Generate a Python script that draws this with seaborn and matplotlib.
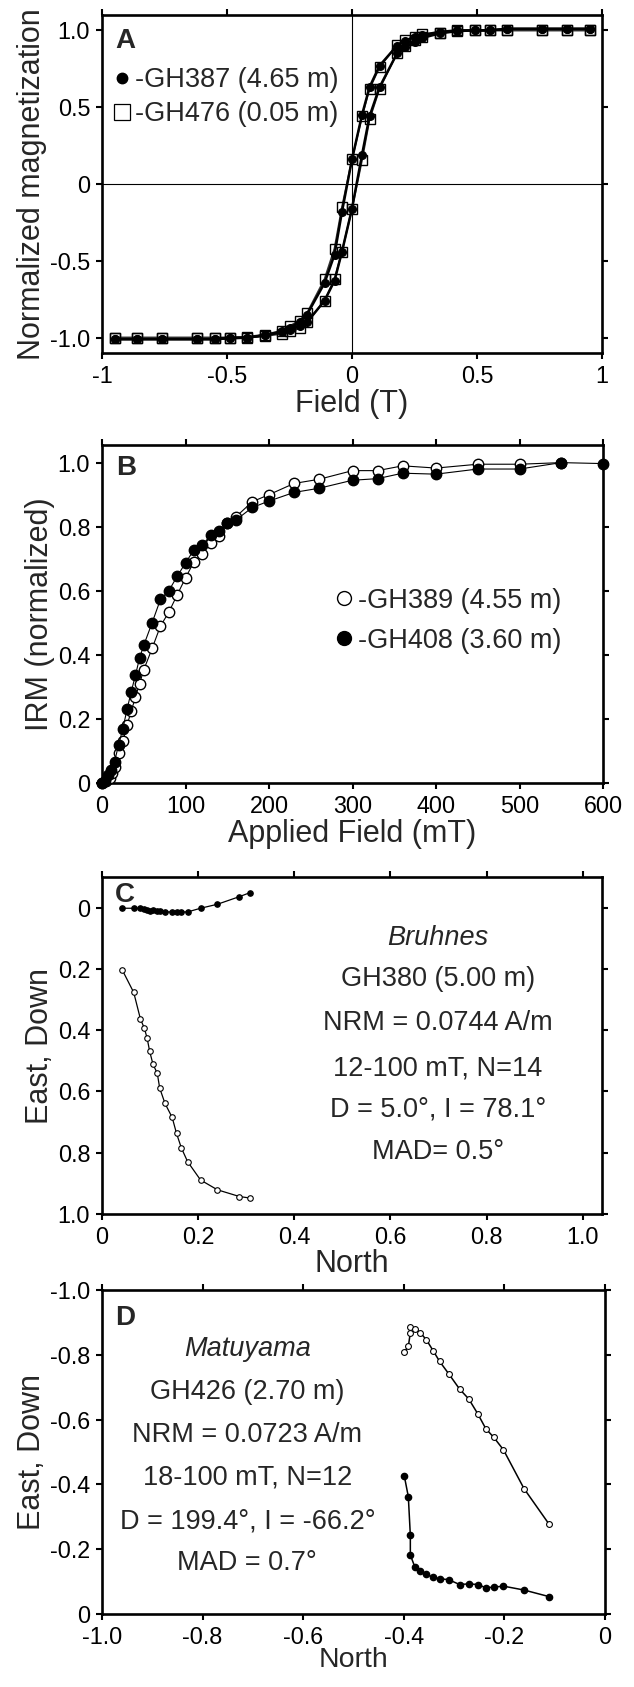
import matplotlib
matplotlib.use("Agg")
import matplotlib.pyplot as plt
from matplotlib.lines import Line2D
from matplotlib.ticker import FixedLocator, FixedFormatter
import seaborn as sns
import pandas as pd

# ---------------- Panel A: hysteresis loops ----------------
field_desc = [0.95, 0.86, 0.76, 0.62, 0.55, 0.49, 0.42, 0.35, 0.28, 0.25, 0.21, 0.18, 0.11, 0.07, 0.04, 0.0,
              -0.04, -0.07, -0.11, -0.18, -0.21, -0.25, -0.28, -0.35, -0.42, -0.49, -0.55, -0.62, -0.76, -0.86, -0.95]
field_asc = [-0.95, -0.86, -0.76, -0.62, -0.55, -0.49, -0.42, -0.35, -0.28, -0.25, -0.21, -0.18, -0.11, -0.07, -0.04, 0.0,
             0.04, 0.07, 0.11, 0.18, 0.21, 0.25, 0.28, 0.35, 0.42, 0.49, 0.55, 0.62, 0.76, 0.86, 0.95]
gh387_desc = [1.01, 1.01, 1.01, 1.01, 1.0, 1.0, 1.0, 0.99, 0.97, 0.955, 0.93, 0.90, 0.77, 0.63, 0.45, 0.16,
              -0.18, -0.46, -0.645, -0.85, -0.90, -0.935, -0.96, -0.985, -1.0, -1.0, -1.01, -1.01, -1.01, -1.01, -1.01]
gh387_asc = [-1.01, -1.01, -1.01, -1.01, -1.01, -1.005, -1.0, -0.985, -0.965, -0.95, -0.925, -0.90, -0.76, -0.63, -0.44, -0.16,
             0.19, 0.44, 0.63, 0.85, 0.89, 0.925, 0.95, 0.98, 0.995, 1.0, 1.0, 1.01, 1.01, 1.01, 1.01]
gh476_desc = [1.0, 1.0, 1.0, 1.0, 1.0, 1.0, 0.995, 0.985, 0.975, 0.96, 0.935, 0.905, 0.76, 0.62, 0.44, 0.16,
              -0.15, -0.42, -0.62, -0.84, -0.89, -0.925, -0.955, -0.98, -0.995, -1.0, -1.0, -1.0, -1.0, -1.0, -1.0]
gh476_asc = [-1.0, -1.0, -1.0, -1.0, -1.0, -1.0, -1.0, -0.99, -0.975, -0.96, -0.94, -0.90, -0.76, -0.62, -0.44, -0.16,
             0.155, 0.42, 0.62, 0.85, 0.90, 0.935, 0.96, 0.985, 1.0, 1.0, 1.0, 1.0, 1.0, 1.0, 1.0]
a_xticks = [-1, -0.5, 0, 0.5, 1]
a_xticklabels = ["-1", "-0.5", "0", "0.5", "1"]
a_yticks = [-1.0, -0.5, 0, 0.5, 1.0]
a_yticklabels = ["-1.0", "-0.5", "0", "0.5", "1.0"]
a_labels = ["-GH387 (4.65 m)", "-GH476 (0.05 m)"]

# ---------------- Panel B: IRM acquisition ----------------
b_field_408 = [0, 4, 7, 10.5, 15, 20, 25, 30, 35, 40, 45, 50, 60, 70, 80, 90, 100, 110, 120, 130, 140, 150,
               160, 180, 200, 230, 260, 300, 330, 360, 400, 450, 500, 550, 600]
gh408 = [0.0, 0.005, 0.026, 0.04, 0.067, 0.12, 0.17, 0.23, 0.285, 0.336, 0.39, 0.43, 0.50, 0.573, 0.60, 0.645,
         0.687, 0.727, 0.742, 0.773, 0.787, 0.81, 0.82, 0.86, 0.88, 0.907, 0.92, 0.945, 0.95, 0.967, 0.964,
         0.98, 0.98, 1.0, 0.997]
b_field_389 = [0, 5, 9, 12, 16, 20, 25, 30, 35, 40, 45, 50, 60, 70, 80, 90, 100, 110, 120, 130, 140, 150,
               160, 180, 200, 230, 260, 300, 330, 360, 400, 450, 500, 550]
gh389 = [0.0, 0.005, 0.015, 0.03, 0.05, 0.093, 0.13, 0.18, 0.225, 0.267, 0.31, 0.353, 0.42, 0.49, 0.533, 0.587,
         0.64, 0.69, 0.715, 0.75, 0.772, 0.81, 0.83, 0.878, 0.90, 0.935, 0.948, 0.975, 0.975, 0.99, 0.983,
         0.995, 0.995, 1.0]
b_xticks = [0, 100, 200, 300, 400, 500, 600]
b_xticklabels = ["0", "100", "200", "300", "400", "500", "600"]
b_yticks = [0, 0.2, 0.4, 0.6, 0.8, 1.0]
b_yticklabels = ["0", "0.2", "0.4", "0.6", "0.8", "1.0"]
b_labels = ["-GH389 (4.55 m)", "-GH408 (3.60 m)"]

# ---------------- Panel C: Zijderveld GH380 ----------------
c_north = [0.042, 0.066, 0.080, 0.088, 0.094, 0.099, 0.106, 0.115, 0.120, 0.131, 0.146, 0.155, 0.165, 0.178,
           0.205, 0.240, 0.286, 0.308]
c_east = [0.002, 0.002, 0.002, 0.003, 0.008, 0.010, 0.009, 0.010, 0.012, 0.014, 0.014, 0.014, 0.014, 0.014,
          0.002, -0.011, -0.036, -0.049]
c_down = [0.203, 0.277, 0.364, 0.393, 0.427, 0.468, 0.511, 0.541, 0.589, 0.639, 0.685, 0.737, 0.784, 0.829,
          0.889, 0.921, 0.943, 0.948]
c_ticks = [0, 0.2, 0.4, 0.6, 0.8, 1.0]
c_ticklabels = ["0", "0.2", "0.4", "0.6", "0.8", "1.0"]
c_text = ["Bruhnes", "GH380 (5.00 m)", "NRM = 0.0744 A/m", "12-100 mT, N=14", "D = 5.0°, I = 78.1°", "MAD= 0.5°"]

# ---------------- Panel D: Zijderveld GH426 ----------------
d_north = [-0.399, -0.391, -0.387, -0.387, -0.378, -0.367, -0.355, -0.341, -0.329, -0.311, -0.289, -0.271,
           -0.253, -0.237, -0.221, -0.202, -0.161, -0.112]
d_east = [-0.426, -0.362, -0.243, -0.182, -0.145, -0.132, -0.122, -0.113, -0.109, -0.106, -0.091, -0.093,
          -0.091, -0.081, -0.083, -0.086, -0.074, -0.054]
d_down = [-0.809, -0.826, -0.868, -0.887, -0.881, -0.868, -0.846, -0.811, -0.780, -0.742, -0.694, -0.664,
          -0.618, -0.572, -0.545, -0.507, -0.387, -0.279]
d_xticks = [-1.0, -0.8, -0.6, -0.4, -0.2, 0]
d_xticklabels = ["-1.0", "-0.8", "-0.6", "-0.4", "-0.2", "0"]
d_yticks = [-1.0, -0.8, -0.6, -0.4, -0.2, 0]
d_yticklabels = ["-1.0", "-0.8", "-0.6", "-0.4", "-0.2", "0"]
d_text = ["Matuyama", "GH426 (2.70 m)", "NRM = 0.0723 A/m", "18-100 mT, N=12", "D = 199.4°, I = -66.2°", "MAD = 0.7°"]

# ---------------- style ----------------
sns.set_theme(style="ticks")
plt.rcParams["font.family"] = ["Liberation Sans", "DejaVu Sans"]
plt.rcParams["axes.linewidth"] = 1.9
plt.rcParams["axes.edgecolor"] = "black"

fig = plt.figure(figsize=(6.34, 16.87), dpi=100)
W, H = 634.0, 1687.0


def make_axes(left, top, right, bottom):
    return fig.add_axes([left / W, 1 - bottom / H, (right - left) / W, (bottom - top) / H])


axA = make_axes(102, 15, 602, 353)
axB = make_axes(102, 445, 603, 783)
axC = make_axes(102, 877, 602, 1214)
axD = make_axes(102, 1290, 605, 1614)

TICK = 16.8
LAB = 22
TXT = 19.5


def style(ax, xt, xtl, yt, ytl):
    ax.xaxis.set_major_locator(FixedLocator(xt))
    ax.xaxis.set_major_formatter(FixedFormatter(xtl))
    ax.yaxis.set_major_locator(FixedLocator(yt))
    ax.yaxis.set_major_formatter(FixedFormatter(ytl))
    ax.tick_params(which="major", direction="out", length=4.5, width=1.5, labelsize=TICK,
                   top=True, right=True, labeltop=False, labelright=False, pad=4, colors="black")
    ax.minorticks_off()
    for s in ax.spines.values():
        s.set_visible(True)
        s.set_linewidth(1.9)
        s.set_color("black")
    ax.grid(False)
    ax.set_facecolor("white")


def line(ax, x, y, marker, ms, mfc, lw, color="black", mew=1.0, z=3):
    df = pd.DataFrame({"x": x, "y": y})
    sns.lineplot(data=df, x="x", y="y", ax=ax, sort=False, estimator=None, color=color, lw=lw,
                 marker=marker, markersize=ms, markerfacecolor=mfc, markeredgecolor="black",
                 markeredgewidth=mew, clip_on=False, zorder=z)


# Panel A
axA.axhline(0, color="black", lw=0.8, zorder=1)
axA.axvline(0, color="black", lw=0.8, zorder=1)
line(axA, field_desc, gh476_desc, "s", 7.5, "none", 1.3, color="#333333")
line(axA, field_asc, gh476_asc, "s", 7.5, "none", 1.3, color="#333333")
line(axA, field_desc, gh387_desc, "o", 5.5, "black", 1.8, z=4)
line(axA, field_asc, gh387_asc, "o", 5.5, "black", 1.8, z=4)
axA.set_xlim(-1, 1)
axA.set_ylim(-1.1, 1.1)
style(axA, a_xticks, a_xticklabels, a_yticks, a_yticklabels)
axA.set_xlabel("Field (T)", fontsize=LAB, labelpad=1)
axA.set_ylabel("Normalized magnetization", fontsize=LAB, labelpad=2)
hA = [Line2D([], [], ls="", marker="o", ms=7.5, mfc="black", mec="black"),
      Line2D([], [], ls="", marker="s", ms=11, mfc="white", mec="black", mew=0.9)]
axA.legend(hA, a_labels, loc="upper left", bbox_to_anchor=(0.018, 0.846), frameon=False,
           fontsize=TXT, handlelength=0.8, handletextpad=0.1, borderaxespad=0, borderpad=0,
           labelspacing=0.3)
axA.text(0.026, 0.962, "A", transform=axA.transAxes, fontsize=20, fontweight="bold", ha="left", va="top")

# Panel B
line(axB, b_field_389, gh389, "o", 7.5, "white", 0.8)
line(axB, b_field_408, gh408, "o", 7.5, "black", 0.8, z=4)
axB.set_xlim(0, 600)
axB.set_ylim(0, 1.055)
style(axB, b_xticks, b_xticklabels, b_yticks, b_yticklabels)
axB.set_xlabel("Applied Field (mT)", fontsize=LAB, labelpad=1)
axB.set_ylabel("IRM (normalized)", fontsize=LAB, labelpad=2)
hB = [Line2D([], [], ls="", marker="o", ms=10, mfc="white", mec="black", mew=1.0),
      Line2D([], [], ls="", marker="o", ms=10, mfc="black", mec="black")]
axB.legend(hB, b_labels, loc="upper left", bbox_to_anchor=(0.462, 0.577), frameon=False,
           fontsize=TXT, handlelength=0.8, handletextpad=0.1, borderaxespad=0, borderpad=0,
           labelspacing=0.5)
axB.text(0.028, 0.97, "B", transform=axB.transAxes, fontsize=20, fontweight="bold", ha="left", va="top")

# Panel C
line(axC, c_north, c_east, "o", 3.8, "black", 0.9)
line(axC, c_north, c_down, "o", 4.0, "white", 0.9, mew=0.8)
axC.set_xlim(0, 1.04)
axC.set_ylim(1.0, -0.1)
style(axC, c_ticks, c_ticklabels, c_ticks, c_ticklabels)
axC.set_xlabel("North", fontsize=LAB, labelpad=0)
axC.set_ylabel("East, Down", fontsize=LAB, labelpad=2)
axC.text(0.026, 0.985, "C", transform=axC.transAxes, fontsize=20, fontweight="bold", ha="left", va="top")
c_y = [0.819, 0.697, 0.567, 0.433, 0.309, 0.184]
for i, (t, yy) in enumerate(zip(c_text, c_y)):
    axC.text(0.672, yy, t, transform=axC.transAxes, fontsize=TXT, ha="center", va="center",
             style="italic" if i == 0 else "normal")

# Panel D
line(axD, d_north, d_east, "o", 4.5, "black", 1.1)
line(axD, d_north, d_down, "o", 4.2, "white", 1.1, mew=0.8)
axD.set_xlim(-1.0, 0)
axD.set_ylim(0, -1.0)
style(axD, d_xticks, d_xticklabels, d_yticks, d_yticklabels)
axD.set_xlabel("North", fontsize=20.5, labelpad=-1)
axD.set_ylabel("East, Down", fontsize=LAB, labelpad=2)
axD.text(0.026, 0.955, "D", transform=axD.transAxes, fontsize=20, fontweight="bold", ha="left", va="top")
d_y = [0.819, 0.684, 0.551, 0.422, 0.286, 0.157]
for i, (t, yy) in enumerate(zip(d_text, d_y)):
    axD.text(0.289, yy, t, transform=axD.transAxes, fontsize=TXT, ha="center", va="center",
             style="italic" if i == 0 else "normal")

fig.savefig("out.png", dpi=100, facecolor="white")
